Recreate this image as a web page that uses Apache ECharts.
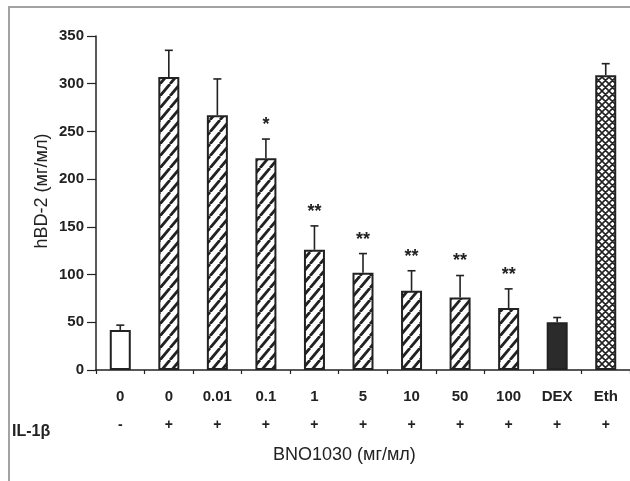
<!DOCTYPE html>
<html>
<head>
<meta charset="utf-8">
<script src="https://cdn.jsdelivr.net/npm/echarts@6/dist/echarts.min.js"></script>
<style>
  html, body { margin: 0; padding: 0; background: #fff; }
  #chart { width: 630px; height: 481px; }
</style>
</head>
<body>
<div id="chart"></div>
<script>
// BNO1030 dose groups and treatments
const categories = ['0', '0', '0.01', '0.1', '1', '5', '10', '50', '100', 'DEX', 'Eth'];
// IL-1β stimulation per group
const il1b = ['-', '+', '+', '+', '+', '+', '+', '+', '+', '+', '+'];
// mean hBD-2 (мг/мл)
const means = [42, 307, 267, 222, 126, 102, 83, 76, 65, 50, 309];
// upper end of the error bar (mean + SD)
const errTops = [47, 335, 305, 242, 151, 122, 104, 99, 85, 55, 321];
// significance marks
const stars = ['', '', '', '*', '**', '**', '**', '**', '**', '', ''];
// fill style per group: open, hatched, solid, cross-hatched
const fills = ['open', 'hatch', 'hatch', 'hatch', 'hatch', 'hatch', 'hatch', 'hatch', 'hatch', 'solid', 'cross'];
const yTicks = [0, 50, 100, 150, 200, 250, 300, 350];

const INK = '#222';

// diagonal "/" hatching tile
function hatchPattern() {
  const w = 10, h = 12;
  const c = document.createElement('canvas');
  c.width = w; c.height = h;
  const g = c.getContext('2d');
  g.fillStyle = '#fff';
  g.fillRect(0, 0, w, h);
  g.strokeStyle = INK;
  g.lineWidth = 2.8;
  g.beginPath();
  for (let k = -1; k <= 1; k++) {
    g.moveTo(k * w, h); g.lineTo((k + 1) * w, 0);
  }
  g.stroke();
  return c;
}

// diamond cross-hatching tile
function crossPattern() {
  const s = 7;
  const c = document.createElement('canvas');
  c.width = s; c.height = s;
  const g = c.getContext('2d');
  g.fillStyle = '#fff';
  g.fillRect(0, 0, s, s);
  g.strokeStyle = INK;
  g.lineWidth = 1.6;
  g.beginPath();
  for (let k = -1; k <= 1; k++) {
    g.moveTo(k * s, s); g.lineTo((k + 1) * s, 0);
    g.moveTo(k * s, 0); g.lineTo((k + 1) * s, s);
  }
  g.stroke();
  return c;
}

const hatch = hatchPattern();
const cross = crossPattern();

function fillFor(kind) {
  if (kind === 'hatch') return { image: hatch, repeat: 'repeat' };
  if (kind === 'cross') return { image: cross, repeat: 'repeat' };
  if (kind === 'solid') return '#2b2b2b';
  return '#fff';
}

const FONT = '"Liberation Sans", Arial, sans-serif';

const chart = echarts.init(document.getElementById('chart'), null, { renderer: 'canvas' });

chart.setOption({
  animation: false,
  backgroundColor: '#fff',
  grid: { left: 96, right: -4, top: 36, bottom: 111, containLabel: false },
  xAxis: [
    {
      type: 'category',
      data: categories,
      axisLine: { lineStyle: { color: INK, width: 1.5 } },
      axisTick: { show: true, length: 4, inside: false, lineStyle: { color: INK, width: 1.2 } },
      axisLabel: {
        color: INK, fontFamily: FONT, fontSize: 15, fontWeight: 'bold',
        margin: 19, interval: 0
      }
    },
    {
      type: 'category',
      position: 'bottom',
      data: categories,
      axisLine: { show: false },
      axisTick: { show: false },
      axisLabel: {
        color: INK, fontFamily: FONT, fontSize: 14, fontWeight: 'bold',
        margin: 48, interval: 0,
        formatter: (v, i) => il1b[i]
      }
    }
  ],
  yAxis: {
    type: 'value',
    min: 0, max: 350, interval: 50,
    axisLine: { show: true, lineStyle: { color: INK, width: 1.5 } },
    axisTick: { show: true, length: 9, lineStyle: { color: INK, width: 1.2 } },
    splitLine: { show: false },
    axisLabel: {
      color: INK, fontFamily: FONT, fontSize: 15, fontWeight: 'bold', margin: 12,
      customValues: yTicks
    }
  },
  series: [
    {
      type: 'bar',
      barWidth: 21,
      data: means.map((v, i) => ({
        value: v,
        itemStyle: { color: fillFor(fills[i]), borderColor: INK, borderWidth: 2 }
      })),
      z: 2
    },
    {
      type: 'custom',
      z: 3,
      data: means.map((v, i) => [i, v, errTops[i]]),
      renderItem: (params, api) => {
        const i = api.value(0);
        const base = api.coord([i, api.value(1)]);
        const top = api.coord([i, api.value(2)]);
        const stroke = { stroke: INK, lineWidth: 1.6 };
        const children = [
          { type: 'line', shape: { x1: base[0], y1: base[1], x2: top[0], y2: top[1] }, style: stroke },
          { type: 'line', shape: { x1: top[0] - 4, y1: top[1], x2: top[0] + 4, y2: top[1] }, style: stroke }
        ];
        const s = stars[params.dataIndex];
        if (s) {
          children.push({
            type: 'text',
            style: {
              text: s, x: top[0], y: top[1] - 14,
              align: 'center', verticalAlign: 'middle',
              fill: INK, font: 'bold 18px ' + FONT
            }
          });
        }
        return { type: 'group', children };
      }
    }
  ],
  graphic: [
    {
      type: 'polyline',
      shape: { points: [[9, 481], [9, 7], [630, 7]] },
      style: { stroke: '#a3a3a3', lineWidth: 2, fill: null },
      silent: true
    },
    {
      type: 'text',
      x: 42, y: 191,
      rotation: Math.PI / 2,
      style: {
        text: 'hBD-2 (мг/мл)', fill: INK, font: '18px ' + FONT,
        align: 'center', verticalAlign: 'middle'
      }
    },
    {
      type: 'text',
      left: 12, top: 424,
      style: { text: 'IL-1β', fill: INK, font: 'bold 16px ' + FONT }
    },
    {
      type: 'text',
      left: 273, top: 446,
      style: { text: 'BNO1030 (мг/мл)', fill: INK, font: '18px ' + FONT }
    }
  ]
});
</script>
</body>
</html>
